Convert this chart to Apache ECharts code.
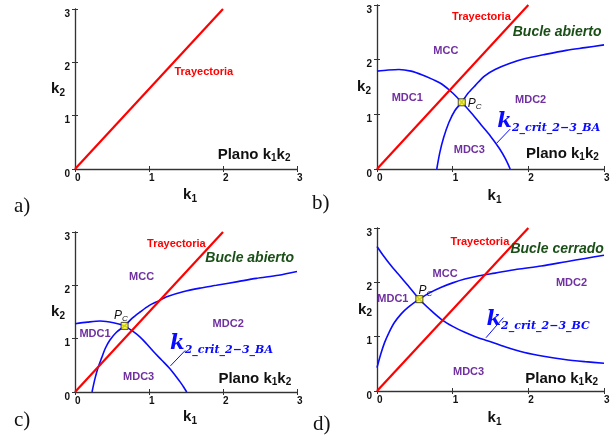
<!DOCTYPE html>
<html><head><meta charset="utf-8">
<script src="https://cdn.jsdelivr.net/npm/echarts@6/dist/echarts.min.js"></script>
<style>html,body{margin:0;padding:0;background:#fff}#c{width:616px;height:443px}</style>
</head><body><div id="c"></div>
<script>
// ---- data ----
const tickValues = [0, 1, 2, 3];
const trajectory = [[0, 0], [2, 3]];
// panel b (open loop, case 1)
const bDecreasing = [[0, 1.79], [0.15, 1.81], [0.29, 1.82], [0.45, 1.79], [0.6, 1.72], [0.75, 1.63], [0.86, 1.55], [1.0, 1.39], [1.12, 1.22], [1.25, 1.02], [1.38, 0.80], [1.5, 0.60], [1.62, 0.37], [1.70, 0.18], [1.76, 0]];
const bIncreasing = [[0.79, 0], [0.83, 0.30], [0.88, 0.57], [0.95, 0.85], [1.03, 1.07], [1.12, 1.22], [1.2, 1.38], [1.30, 1.53], [1.42, 1.70], [1.56, 1.82], [1.75, 1.93], [1.96, 2.02], [2.2, 2.09], [2.5, 2.17], [2.75, 2.22], [3.0, 2.27]];
const bPc = [1.12, 1.22];
// panel c (open loop, case 2)
const cDecreasing = [[0, 1.28], [0.17, 1.31], [0.34, 1.33], [0.52, 1.30], [0.67, 1.24], [0.78, 1.14], [0.88, 1.03], [0.97, 0.90], [1.06, 0.76], [1.17, 0.60], [1.28, 0.44], [1.36, 0.30], [1.42, 0.19], [1.47, 0.09], [1.51, 0]];
const cIncreasing = [[0.23, 0], [0.27, 0.25], [0.31, 0.45], [0.36, 0.64], [0.41, 0.82], [0.47, 0.97], [0.56, 1.12], [0.67, 1.24], [0.77, 1.38], [0.88, 1.50], [1.0, 1.62], [1.10, 1.69], [1.25, 1.79], [1.46, 1.88], [1.7, 1.95], [1.91, 2.00], [2.2, 2.07], [2.45, 2.13], [2.75, 2.19], [3.0, 2.26]];
const cPc = [0.67, 1.24];
// panel d (closed loop)
const dDecreasing = [[0, 2.66], [0.09, 2.48], [0.19, 2.30], [0.30, 2.12], [0.41, 1.94], [0.56, 1.69], [0.70, 1.50], [0.85, 1.32], [1.0, 1.19], [1.16, 1.08], [1.3, 1.0], [1.47, 0.92], [1.7, 0.81], [1.95, 0.71], [2.2, 0.64], [2.48, 0.58], [2.75, 0.54], [3.0, 0.51]];
const dIncreasing = [[0, 0.43], [0.05, 0.68], [0.10, 0.89], [0.16, 1.08], [0.23, 1.26], [0.32, 1.42], [0.41, 1.54], [0.56, 1.69], [0.70, 1.81], [0.85, 1.91], [1.0, 1.99], [1.16, 2.06], [1.35, 2.12], [1.56, 2.17], [1.85, 2.24], [2.17, 2.30], [2.5, 2.38], [2.75, 2.44], [3.0, 2.50]];
const dPc = [0.56, 1.69];

// ---- layout / style ----
const SANS = '"Liberation Sans", Arial, sans-serif';
const SERIF = '"DejaVu Serif", "Liberation Serif", serif';
const RED = '#ff0000', BLUE = '#0a0aff', PURPLE = '#7030a0', GREEN = '#1a4f17';
const grids = [
  {left: 75, top: 9, width: 222, height: 160, yGap: 10, xGap: 17},
  {left: 377, top: 5, width: 227, height: 164, yGap: 6, xGap: 18},
  {left: 75, top: 232, width: 222, height: 160, yGap: 10, xGap: 16},
  {left: 377, top: 228, width: 227, height: 163, yGap: 5, xGap: 18}
];

const xAxes = [], yAxes = [];
const subRich = {
  k: {fontFamily: SANS, fontWeight: 'bold', fontSize: 15, color: '#111', lineHeight: 18},
  s: {fontFamily: SANS, fontWeight: 'bold', fontSize: 10, color: '#111', lineHeight: 18, verticalAlign: 'bottom', padding: [8, 0, 0, 0]}
};
grids.forEach((g, i) => {
  const common = {type: 'value', gridIndex: i, min: 0, max: 3, interval: 1, splitLine: {show: false}};
  xAxes.push(Object.assign({}, common, {
    position: 'bottom',
    axisLine: {show: true, lineStyle: {color: '#444', width: 1.4}},
    axisTick: {show: true, inside: true, length: 3, lineStyle: {color: '#333'}},
    axisLabel: {show: true, fontFamily: SANS, fontWeight: 'bold', fontSize: 10, color: '#111', margin: 4, align: 'left', formatter: v => tickValues.includes(v) ? String(v) : ''},
    name: '{k|k}{s|1}', nameLocation: 'middle', nameGap: g.xGap, nameMoveOverlap: false,
    nameTextStyle: {rich: subRich, padding: [0, 0, 0, 8]}
  }));
  xAxes.push(Object.assign({}, common, {
    position: 'top',
    axisLine: {show: true, lineStyle: {color: '#333', width: 1}},
    axisTick: {show: true, inside: true, length: 3, lineStyle: {color: '#333'}},
    axisLabel: {show: false}
  }));
  yAxes.push(Object.assign({}, common, {
    position: 'left',
    axisLine: {show: true, lineStyle: {color: '#555', width: 1.4}},
    axisTick: {show: true, inside: true, length: 3, lineStyle: {color: '#333'}},
    axisLabel: {show: true, fontFamily: SANS, fontWeight: 'bold', fontSize: 10, color: '#111', margin: 5, verticalAlign: 'top', formatter: v => tickValues.includes(v) ? String(v) : ''},
    name: '{k|k}{s|2}', nameLocation: 'middle', nameRotate: 0, nameGap: g.yGap, nameMoveOverlap: false,
    nameTextStyle: {rich: subRich}
  }));
  yAxes.push(Object.assign({}, common, {
    position: 'right',
    axisLine: {show: true, lineStyle: {color: '#333', width: 1}},
    axisTick: {show: true, inside: true, length: 3, lineStyle: {color: '#333'}},
    axisLabel: {show: false}
  }));
});

const series = [];
function curve(gi, data, color, width, z) {
  series.push({type: 'line', xAxisIndex: 2 * gi, yAxisIndex: 2 * gi, data: data, smooth: 0.3,
    symbol: 'none', lineStyle: {color: color, width: width}, silent: true, z: z});
}
function text(gi, at, content, style, rich) {
  series.push({type: 'scatter', xAxisIndex: 2 * gi, yAxisIndex: 2 * gi, data: [at], symbolSize: 1,
    itemStyle: {color: 'rgba(0,0,0,0)'}, silent: true, z: 6,
    label: Object.assign({show: true, position: 'inside', formatter: content, rich: rich || {}, textBorderWidth: 0, opacity: 1}, style)});
}
function marker(gi, at) {
  series.push({type: 'scatter', xAxisIndex: 2 * gi, yAxisIndex: 2 * gi, data: [at], symbol: 'rect', symbolSize: 7,
    itemStyle: {color: '#ffff00', borderColor: '#222', borderWidth: 1}, silent: true, z: 7});
}
function arrow(gi, from, to) {
  series.push({type: 'line', xAxisIndex: 2 * gi, yAxisIndex: 2 * gi, data: [], silent: true,
    markLine: {silent: true, symbol: ['none', 'arrow'], symbolSize: [0, 6], label: {show: false},
      lineStyle: {color: BLUE, width: 1, type: 'solid'},
      data: [[{coord: from}, {coord: to}]]}});
}

const sTray = {fontFamily: SANS, fontWeight: 'bold', fontSize: 11, color: RED};
const sRegion = {fontFamily: SANS, fontWeight: 'bold', fontSize: 11, color: PURPLE};
const sLoop = {fontFamily: SANS, fontWeight: 'bold', fontStyle: 'italic', fontSize: 14, color: GREEN};
const pcRich = {p: {fontFamily: SANS, fontStyle: 'italic', fontSize: 12, color: '#111', lineHeight: 14},
  s: {fontFamily: SANS, fontStyle: 'italic', fontSize: 8, color: '#111', lineHeight: 14, verticalAlign: 'bottom', padding: [6, 0, 0, 0]}};
const planoRich = {
  p: {fontFamily: SANS, fontWeight: 'bold', fontSize: 15, color: '#111', lineHeight: 18},
  s: {fontFamily: SANS, fontWeight: 'bold', fontSize: 10, color: '#111', lineHeight: 18, verticalAlign: 'bottom', padding: [8, 0, 0, 0]}
};
const critRich = {
  k: {fontFamily: SERIF, fontWeight: 'bold', fontStyle: 'italic', fontSize: 21, color: BLUE, lineHeight: 24},
  s: {fontFamily: SERIF, fontWeight: 'bold', fontStyle: 'italic', fontSize: 11, color: BLUE, lineHeight: 24, verticalAlign: 'bottom', padding: [10, 0, 0, 0]}
};
const planoText = '{p|Plano k}{s|1}{p|k}{s|2}';

// panel a
curve(0, trajectory, RED, 2.2, 5);
text(0, [1.74, 1.82], 'Trayectoria', sTray);
text(0, [2.42, 0.27], planoText, {}, planoRich);

// panel b
curve(1, bDecreasing, BLUE, 1.6, 3);
curve(1, bIncreasing, BLUE, 1.6, 3);
curve(1, trajectory, RED, 2.2, 5);
marker(1, bPc);
text(1, [1.38, 2.79], 'Trayectoria', sTray);
text(1, [2.38, 2.51], 'Bucle abierto', sLoop);
text(1, [0.91, 2.16], 'MCC', sRegion);
text(1, [0.40, 1.30], 'MDC1', sRegion);
text(1, [2.03, 1.27], 'MDC2', sRegion);
text(1, [1.22, 0.35], 'MDC3', sRegion);
text(1, [1.29, 1.20], '{p|P}{s|C}', {}, pcRich);
text(1, [2.27, 0.87], '{k|k}{s|2_crit_2−3_BA}', {}, critRich);
arrow(1, [1.76, 0.73], [1.58, 0.47]);
text(1, [2.45, 0.28], planoText, {}, planoRich);

// panel c
curve(2, cDecreasing, BLUE, 1.6, 3);
curve(2, cIncreasing, BLUE, 1.6, 3);
curve(2, trajectory, RED, 2.2, 5);
marker(2, cPc);
text(2, [1.37, 2.78], 'Trayectoria', sTray);
text(2, [2.36, 2.51], 'Bucle abierto', sLoop);
text(2, [0.90, 2.16], 'MCC', sRegion);
text(2, [0.27, 1.09], 'MDC1', sRegion);
text(2, [2.07, 1.28], 'MDC2', sRegion);
text(2, [0.86, 0.28], 'MDC3', sRegion);
text(2, [0.62, 1.43], '{p|P}{s|C}', {}, pcRich);
text(2, [1.98, 0.91], '{k|k}{s|2_crit_2−3_BA}', {}, critRich);
arrow(2, [1.49, 0.78], [1.29, 0.49]);
text(2, [2.43, 0.25], planoText, {}, planoRich);

// panel d
curve(3, dDecreasing, BLUE, 1.6, 3);
curve(3, dIncreasing, BLUE, 1.6, 3);
curve(3, trajectory, RED, 2.2, 5);
marker(3, dPc);
text(3, [1.36, 2.74], 'Trayectoria', sTray);
text(3, [2.38, 2.62], 'Bucle cerrado', sLoop);
text(3, [0.90, 2.15], 'MCC', sRegion);
text(3, [0.21, 1.69], 'MDC1', sRegion);
text(3, [2.57, 1.99], 'MDC2', sRegion);
text(3, [1.21, 0.35], 'MDC3', sRegion);
text(3, [0.64, 1.84], '{p|P}{s|C}', {}, pcRich);
text(3, [2.13, 1.32], '{k|k}{s|2_crit_2−3_BC}', {}, critRich);
arrow(3, [1.67, 1.35], [1.44, 0.98]);
text(3, [2.44, 0.23], planoText, {}, planoRich);

const panelLetter = {fontFamily: '"Liberation Serif", serif', fontSize: 21, fill: '#111', textAlign: 'left', textVerticalAlign: 'top'};
const chart = echarts.init(document.getElementById('c'), null, {renderer: 'canvas'});
chart.setOption({
  animation: false,
  backgroundColor: '#fff',
  grid: grids.map(g => ({left: g.left, top: g.top, width: g.width, height: g.height})),
  xAxis: xAxes,
  yAxis: yAxes,
  series: series,
  graphic: [
    {type: 'text', left: 14, top: 196, style: Object.assign({text: 'a)'}, panelLetter)},
    {type: 'text', left: 312, top: 193, style: Object.assign({text: 'b)'}, panelLetter)},
    {type: 'text', left: 14, top: 410, style: Object.assign({text: 'c)'}, panelLetter)},
    {type: 'text', left: 313, top: 414, style: Object.assign({text: 'd)'}, panelLetter)}
  ]
});
</script>
</body></html>
